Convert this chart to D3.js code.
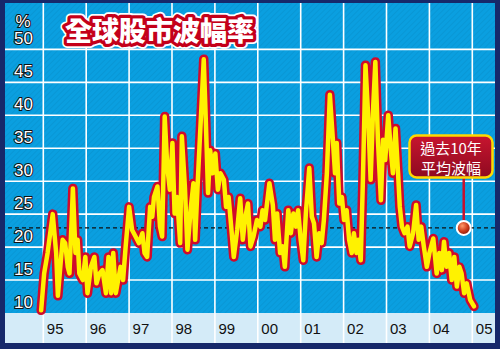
<!DOCTYPE html>
<html>
<head>
<meta charset="utf-8">
<script src="https://cdn.jsdelivr.net/npm/d3@7"></script>
<style>
  html, body { margin: 0; padding: 0; background: #ffffff; }
  svg { display: block; }
</style>
</head>
<body>
<div id="chart"></div>
<script>
/* Data */
var titleText = "全球股市波幅率";
var yTickValues = [10, 15, 20, 25, 30, 35, 40, 45, 50];
var xTickYears = [1995, 1996, 1997, 1998, 1999, 2000, 2001, 2002, 2003, 2004, 2005];
var xTickLabels = ["95", "96", "97", "98", "99", "00", "01", "02", "03", "04", "05"];
var avgVolatility = 20.4;
var avgMarkerYear = 2004.8;
var calloutLines = ["過去10年", "平均波幅"];

// decimal year of each reading
var years = [
  1994.95, 1995.02, 1995.10, 1995.22, 1995.30, 1995.34, 1995.39, 1995.45, 1995.51, 1995.57,
  1995.61, 1995.69, 1995.75, 1995.80, 1995.84, 1995.92, 1995.98, 1996.03, 1996.11, 1996.19,
  1996.24, 1996.31, 1996.38, 1996.46, 1996.52, 1996.58, 1996.63, 1996.69, 1996.80, 1996.86,
  1996.92, 1997.00, 1997.07, 1997.15, 1997.23, 1997.31, 1997.36, 1997.42, 1997.49, 1997.54,
  1997.58, 1997.66, 1997.72, 1997.77, 1997.83, 1997.89, 1997.95, 1998.01, 1998.06, 1998.12,
  1998.19, 1998.23, 1998.30, 1998.36, 1998.44, 1998.50, 1998.54, 1998.61, 1998.74, 1998.79,
  1998.84, 1998.89, 1998.95, 1999.01, 1999.07, 1999.13, 1999.21, 1999.26, 1999.32, 1999.38,
  1999.44, 1999.52, 1999.59, 1999.65, 1999.71, 1999.77, 1999.83, 1999.90, 1999.98, 2000.06,
  2000.11, 2000.17, 2000.27, 2000.35, 2000.40, 2000.45, 2000.52, 2000.58, 2000.63, 2000.71,
  2000.77, 2000.83, 2000.89, 2000.94, 2001.00, 2001.06, 2001.12, 2001.20, 2001.26, 2001.31,
  2001.37, 2001.43, 2001.49, 2001.54, 2001.61, 2001.68, 2001.75, 2001.80, 2001.84, 2001.90,
  2001.96, 2002.01, 2002.07, 2002.13, 2002.19, 2002.24, 2002.30, 2002.34, 2002.40, 2002.45,
  2002.51, 2002.57, 2002.63, 2002.69, 2002.74, 2002.80, 2002.87, 2002.92, 2002.97, 2003.04,
  2003.10, 2003.15, 2003.21, 2003.27, 2003.31, 2003.36, 2003.42, 2003.49, 2003.54, 2003.62,
  2003.69, 2003.75, 2003.81, 2003.87, 2003.94, 2004.00, 2004.09, 2004.17, 2004.23, 2004.29,
  2004.34, 2004.40, 2004.46, 2004.52, 2004.58, 2004.64, 2004.70, 2004.75, 2004.81, 2004.87,
  2004.95, 2005.04
];

// volatility (%) at each reading
var volatility = [
  7.9, 13.5, 16.6, 22.5, 16.6, 10.1, 14.0, 18.6, 18.1, 14.5,
  13.5, 26.4, 16.6, 18.6, 13.5, 12.5, 16.0, 10.5, 14.5, 16.0,
  12.0, 13.5, 14.0, 10.5, 16.0, 10.5, 16.6, 10.5, 14.5, 12.5,
  17.6, 23.6, 20.1, 19.1, 18.1, 19.6, 16.6, 16.0, 23.6, 22.1,
  25.1, 26.7, 20.6, 19.1, 37.3, 29.7, 26.2, 33.3, 22.6, 25.1,
  18.1, 34.3, 26.7, 17.1, 23.6, 27.2, 18.6, 28.7, 46.0, 36.3,
  25.7, 32.2, 28.7, 31.7, 26.2, 28.7, 27.7, 23.6, 25.1, 20.6,
  16.0, 20.1, 24.9, 18.6, 22.1, 24.1, 17.6, 19.1, 21.6, 20.6,
  23.1, 21.6, 27.2, 23.9, 18.6, 22.6, 16.6, 17.6, 14.5, 23.1,
  19.6, 22.6, 20.6, 23.1, 18.6, 15.5, 22.6, 29.5, 22.1, 21.1,
  16.0, 19.6, 18.1, 21.6, 28.7, 40.6, 33.8, 28.7, 33.3, 24.1,
  25.1, 21.6, 23.1, 18.6, 16.6, 19.6, 16.6, 18.6, 15.5, 27.7,
  45.1, 37.8, 27.7, 38.8, 45.6, 33.8, 24.6, 33.8, 30.7, 37.5,
  32.2, 28.7, 35.5, 28.7, 23.6, 20.6, 19.6, 20.6, 17.6, 19.6,
  23.9, 18.6, 20.6, 17.6, 14.5, 16.6, 18.8, 13.5, 16.6, 14.0,
  18.3, 14.5, 16.6, 12.5, 16.0, 11.5, 14.5, 13.5, 10.5, 12.0,
  9.5, 8.5
];

/* Layout */
var width = 500;
var height = 349;
var frame = {left: 5, top: 3, right: 495, bottom: 343};
var plotBottom = 313;
var dashLeft = 8;

var blue = "#0a9fe0";
var navy = "#16286a";
var red = "#d00a2c";
var yellow = "#fff200";

var x = d3.scaleLinear().domain([1995, 2005]).range([43.3, 472.3]);
var y = d3.scaleLinear().domain([10, 50]).range([296.5, 32.9]);

var svg = d3.select("#chart")
    .append("svg")
    .attr("width", width)
    .attr("height", height);

drawBackground(svg);
drawGrid(svg);
drawAxisLabels(svg);
drawAverage(svg);
drawSeries(svg);
drawCallout(svg);
drawTitle(svg);

/*
 * frame, plot blue with its faint hatching and the light x-axis band
 */
function drawBackground(svg){
    var defs = svg.append("defs");
    var hatch = defs.append("pattern")
	.attr("id", "hatch")
	.attr("width", 4)
	.attr("height", 4)
	.attr("patternUnits", "userSpaceOnUse")
	.attr("patternTransform", "rotate(45)");
    hatch.append("rect").attr("width", 4).attr("height", 4).attr("fill", blue);
    hatch.append("line")
	.attr("x1", 0).attr("y1", 0).attr("x2", 0).attr("y2", 4)
	.attr("stroke", "#000").attr("stroke-opacity", 0.05).attr("stroke-width", 2);

    svg.append("rect")
	.attr("width", width)
	.attr("height", height)
	.attr("fill", navy);
    svg.append("rect")
	.attr("x", frame.left)
	.attr("y", frame.top)
	.attr("width", frame.right - frame.left)
	.attr("height", plotBottom - frame.top)
	.attr("fill", "url(#hatch)");
    svg.append("rect")
	.attr("x", frame.left)
	.attr("y", plotBottom)
	.attr("width", frame.right - frame.left)
	.attr("height", frame.bottom - plotBottom)
	.attr("fill", "#d4ebf8");
}

/*
 * white grid: horizontal lines sit between the labels, vertical on the years
 */
function drawGrid(svg){
    var gridValues = yTickValues.slice(0, -1).map(function(v){ return v + 2.5; });
    svg.append("g")
	.selectAll("line")
	.data(gridValues)
	.enter()
	.append("line")
	.attr("x1", frame.left)
	.attr("x2", frame.right)
	.attr("y1", function(d){ return y(d); })
	.attr("y2", function(d){ return y(d); })
	.attr("stroke", "#ffffff")
	.attr("stroke-width", 1.6);

    svg.append("g")
	.selectAll("line")
	.data(xTickYears)
	.enter()
	.append("line")
	.attr("x1", function(d){ return x(d); })
	.attr("x2", function(d){ return x(d); })
	.attr("y1", frame.top)
	.attr("y2", frame.bottom)
	.attr("stroke", "#ffffff")
	.attr("stroke-width", 1.6);
}

/*
 * y labels as outlined numerals, x labels in the light band
 */
function drawAxisLabels(svg){
    svg.append("text")
	.attr("x", 23)
	.attr("y", 21)
	.attr("text-anchor", "middle")
	.attr("dominant-baseline", "central")
	.style("font", "17px 'Liberation Sans', Arial, sans-serif")
	.attr("fill", "#ffffff")
	.attr("stroke", "#111")
	.attr("stroke-width", 2)
	.attr("paint-order", "stroke")
	.text("%");

    svg.append("g")
	.selectAll("text")
	.data(yTickValues)
	.enter()
	.append("text")
	.attr("x", 23.5)
	.attr("y", function(d){ return y(d) + 6; })
	.attr("text-anchor", "middle")
	.attr("dominant-baseline", "central")
	.style("font", "17px 'Liberation Sans', Arial, sans-serif")
	.attr("fill", "#ffffff")
	.attr("stroke", "#111")
	.attr("stroke-width", 2)
	.attr("paint-order", "stroke")
	.text(function(d){ return d; });

    svg.append("g")
	.selectAll("text")
	.data(xTickYears)
	.enter()
	.append("text")
	.attr("x", function(d){ return x(d) + 3.5; })
	.attr("y", 328)
	.attr("dominant-baseline", "central")
	.style("font", "15px 'Liberation Sans', Arial, sans-serif")
	.attr("fill", "#111")
	.text(function(d, i){ return xTickLabels[i]; });
}

/*
 * dashed 10 year average
 */
function drawAverage(svg){
    svg.append("line")
	.attr("x1", dashLeft)
	.attr("x2", frame.right)
	.attr("y1", y(avgVolatility))
	.attr("y2", y(avgVolatility))
	.attr("stroke", "#111")
	.attr("stroke-width", 1.2)
	.attr("stroke-dasharray", "4,3");
}

/*
 * the volatility line: thick red under a yellow core
 */
function drawSeries(svg){
    var points = years.map(function(d, i){ return {year: d, value: volatility[i]}; });
    var line = d3.line()
	.x(function(d){ return x(d.year); })
	.y(function(d){ return y(d.value); });

    svg.append("path")
	.datum(points)
	.attr("d", line)
	.attr("fill", "none")
	.attr("stroke", red)
	.attr("stroke-width", 9.5)
	.attr("stroke-linejoin", "round")
	.attr("stroke-linecap", "round");
    svg.append("path")
	.datum(points)
	.attr("d", line)
	.attr("fill", "none")
	.attr("stroke", yellow)
	.attr("stroke-width", 4.5)
	.attr("stroke-linejoin", "round")
	.attr("stroke-linecap", "round");
}

/*
 * red label box with a stem down to the ball on the average line
 */
function drawCallout(svg){
    var defs = svg.select("defs");
    var boxGrad = defs.append("linearGradient")
	.attr("id", "boxGrad")
	.attr("x1", 0).attr("y1", 0).attr("x2", 0).attr("y2", 1);
    boxGrad.append("stop").attr("offset", "0%").attr("stop-color", "#c8152f");
    boxGrad.append("stop").attr("offset", "100%").attr("stop-color", "#8e0a20");

    var ballGrad = defs.append("radialGradient")
	.attr("id", "ballGrad")
	.attr("cx", "40%").attr("cy", "35%").attr("r", "65%");
    ballGrad.append("stop").attr("offset", "0%").attr("stop-color", "#ff9a6a");
    ballGrad.append("stop").attr("offset", "55%").attr("stop-color", "#d0401e");
    ballGrad.append("stop").attr("offset", "100%").attr("stop-color", "#8a1808");

    var cx = x(avgMarkerYear);
    var cy = y(avgVolatility);

    svg.append("line")
	.attr("x1", cx)
	.attr("x2", cx)
	.attr("y1", 177)
	.attr("y2", cy)
	.attr("stroke", "#c8102e")
	.attr("stroke-width", 2.5);

    svg.append("rect")
	.attr("x", 409.5)
	.attr("y", 135.5)
	.attr("width", 83)
	.attr("height", 42)
	.attr("rx", 7)
	.attr("fill", "url(#boxGrad)")
	.attr("stroke", "#ffd800")
	.attr("stroke-width", 2.5);

    svg.append("g")
	.selectAll("text")
	.data(calloutLines)
	.enter()
	.append("text")
	.attr("x", 451)
	.attr("y", function(d, i){ return 147.5 + i*19.5; })
	.attr("text-anchor", "middle")
	.attr("dominant-baseline", "central")
	.style("font", "15px 'Noto Sans CJK TC', sans-serif")
	.attr("fill", "#ffffff")
	.text(function(d){ return d; });

    svg.append("circle")
	.attr("cx", cx)
	.attr("cy", cy)
	.attr("r", 7)
	.attr("fill", "url(#ballGrad)")
	.attr("stroke", "#ffffff")
	.attr("stroke-width", 2);
}

/*
 * title: white characters, red outline, thin white halo
 */
function drawTitle(svg){
    var layers = [
	{stroke: "#ffffff", width: 10},
	{stroke: "#c4001a", width: 6.5},
	{stroke: "none", width: 0}
    ];
    svg.append("g")
	.selectAll("text")
	.data(layers)
	.enter()
	.append("text")
	.attr("x", 65)
	.attr("y", 29)
	.attr("dominant-baseline", "central")
	.style("font", "900 27px 'Noto Sans CJK TC', sans-serif")
	.attr("fill", "#ffffff")
	.attr("stroke", function(d){ return d.stroke; })
	.attr("stroke-width", function(d){ return d.width; })
	.attr("stroke-linejoin", "round")
	.text(titleText);
}
</script>
</body>
</html>
